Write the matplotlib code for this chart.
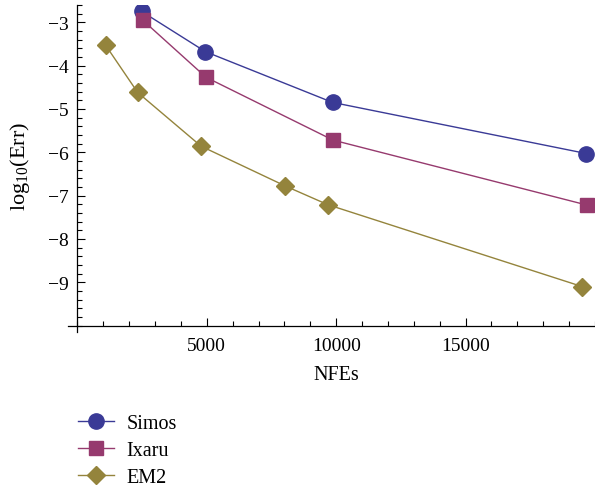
import matplotlib
matplotlib.use("Agg")
import matplotlib.pyplot as plt
from matplotlib.ticker import MultipleLocator

plt.rcParams['font.family'] = ['Liberation Serif', 'DejaVu Serif']
plt.rcParams['axes.unicode_minus'] = True

simos_x = [2480, 4950, 9860, 19670]
simos_y = [-2.75, -3.68, -4.85, -6.03]
ixaru_x = [2520, 4970, 9880, 19700]
ixaru_y = [-2.95, -4.27, -5.72, -7.22]
em2_x = [1090, 2330, 4780, 8040, 9680, 19510]
em2_y = [-3.53, -4.62, -5.86, -6.78, -7.21, -9.10]

x_ticks = [5000, 10000, 15000]
y_ticks = [-3, -4, -5, -6, -7, -8, -9]

fig = plt.figure(figsize=(5.95, 4.89), dpi=100)
ax = fig.add_axes([0.130, 0.332, 0.870, 0.656])

ax.plot(simos_x, simos_y, color='#3a3a96', lw=1.0, marker='o', ms=11,
        markerfacecolor='#3a3a96', markeredgecolor='#3a3a96', label='Simos', zorder=3)
ax.plot(ixaru_x, ixaru_y, color='#963a6e', lw=1.0, marker='s', ms=10,
        markerfacecolor='#963a6e', markeredgecolor='#963a6e', label='Ixaru', zorder=3)
ax.plot(em2_x, em2_y, color='#94843c', lw=1.0, marker='D', ms=9.2,
        markerfacecolor='#94843c', markeredgecolor='#94843c', label='EM2', zorder=3)

ax.set_xlim(0, 20000)
ax.set_ylim(-10, -2.6)
ax.set_xticks(x_ticks)
ax.set_yticks(y_ticks)
ax.set_yticklabels(['\u2212' + str(abs(v)) for v in y_ticks])
ax.xaxis.set_minor_locator(MultipleLocator(1000))
ax.yaxis.set_minor_locator(MultipleLocator(0.2))
ax.tick_params(which='major', direction='in', length=6, width=0.8, labelsize=14)
ax.tick_params(axis='x', which='major', pad=8)
ax.tick_params(axis='y', which='major', pad=6.5)
ax.tick_params(which='minor', direction='in', length=3.5, width=0.8)
for s in ['top', 'right']:
    ax.spines[s].set_visible(False)
ax.spines['left'].set_linewidth(0.9)
ax.spines['bottom'].set_linewidth(0.9)
ax.spines['bottom'].set_bounds(-350, 20000)
ax.spines['left'].set_bounds(-10.14, -2.6)

ax.set_xlabel('NFEs', fontsize=14.5, labelpad=8)
ax.set_ylabel(r'$\mathregular{log_{10}(Err)}$', fontsize=16, labelpad=11)

leg = fig.legend(loc='lower left', bbox_to_anchor=(0.101, -0.036), frameon=False,
                 fontsize=14.5, handlelength=1.8, handletextpad=0.6, labelspacing=0.4,
                 borderpad=0.4, numpoints=1)

fig.savefig('out.png', dpi=100)
